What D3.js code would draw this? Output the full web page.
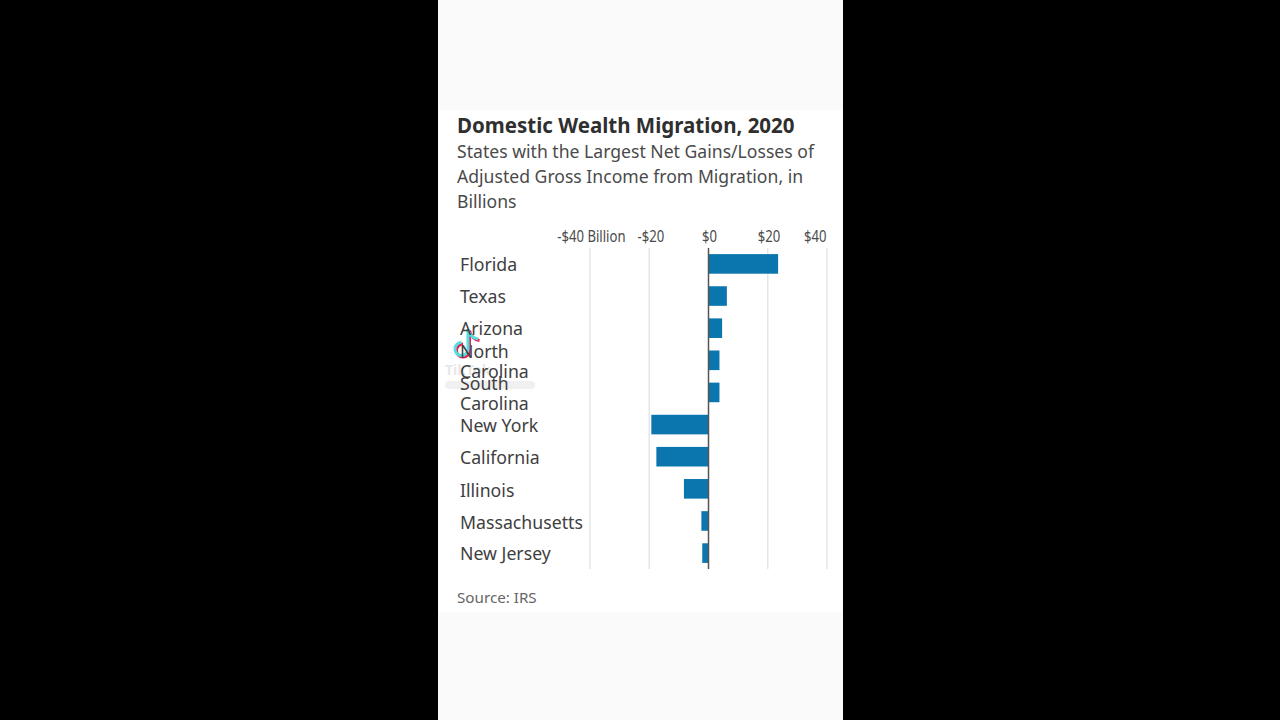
<!DOCTYPE html>
<html><head><meta charset="utf-8">
<script src="https://cdn.jsdelivr.net/npm/d3@7"></script>
<style>
html,body{margin:0;padding:0;background:#000;overflow:hidden}
svg{display:block}
text{font-family:"Noto Sans",sans-serif;font-variant-ligatures:none}
</style></head><body><div id="c"></div>
<script>
const categories=["Florida","Texas","Arizona","North Carolina","South Carolina","New York","California","Illinois","Massachusetts","New Jersey"];
const values=[23.5,6.2,4.6,3.7,3.7,-19.3,-17.6,-8.3,-2.4,-2.1];
const tickValues=[-40,-20,0,20,40];
const tickLabels=["-$40 Billion","-$20","$0","$20","$40"];
const title="Domestic Wealth Migration, 2020";
const subtitle=["States with the Largest Net Gains/Losses of","Adjusted Gross Income from Migration, in","Billions"];
const source="Source: IRS";

const svg=d3.select("#c").append("svg").attr("width",1280).attr("height",720);
svg.append("rect").attr("x",438).attr("y",0).attr("width",405).attr("height",720).attr("fill","#fafafa");
svg.append("rect").attr("x",439).attr("y",110).attr("width",403).attr("height",502).attr("fill","#fff");

svg.append("text").attr("x",457).attr("y",133).attr("font-size",20.5).attr("font-weight",700).attr("fill","#2f2f2f").text(title);
svg.selectAll("text.sub").data(subtitle).join("text").attr("class","sub")
  .attr("x",457).attr("y",(d,i)=>157.5+i*25).attr("font-size",17.6).attr("fill","#4a4a4a").text(d=>d);

const x=d3.scaleLinear().domain([-40,40]).range([590,827]);
const y=d3.scaleBand().domain(categories).range([248,569]).paddingInner(0.39).paddingOuter(0.19);

const tickOffset={"-40":35,"-20":14.5,"0":8,"20":12,"40":-1};
const axis=d3.axisTop(x).tickValues(tickValues).tickSize(0).tickFormat((d,i)=>tickLabels[i]);
const ga=svg.append("g").attr("transform","translate(0,241.5)").call(axis);
ga.select(".domain").remove();
ga.selectAll("text").attr("font-size",16).attr("fill","#4a4a4a").attr("dy",0)
  .attr("text-anchor","end").attr("x",0).attr("y",0)
  .attr("transform",d=>`translate(${tickOffset[d]},0) scale(0.82,1)`);

svg.append("g").selectAll("line").data(tickValues.filter(d=>d!==0)).join("line")
  .attr("x1",d=>x(d)).attr("x2",d=>x(d)).attr("y1",248).attr("y2",569)
  .attr("stroke","#e6e6e6").attr("stroke-width",1.5);

svg.append("g").selectAll("rect").data(values).join("rect")
  .attr("x",d=>Math.min(x(d),x(0))).attr("width",d=>Math.abs(x(d)-x(0)))
  .attr("y",(d,i)=>y(categories[i])).attr("height",y.bandwidth())
  .attr("fill","#0b76ad");

svg.append("line").attr("x1",x(0)).attr("x2",x(0)).attr("y1",248).attr("y2",569)
  .attr("stroke","#555").attr("stroke-width",1.5);

// video watermark: the handle under it cannot be read in the reference, so it stays a faint smear
const wm=svg.append("g");
wm.append("text").attr("x",445).attr("y",375).attr("font-size",14).attr("font-weight",700).attr("fill","#e8e8e8").text("TikTok");
wm.append("rect").attr("x",445).attr("y",381).attr("width",90).attr("height",8).attr("rx",4).attr("fill","#f0f0f0");

const labelY=[271,303,335,358,390,432,464,497,529,560];
const labels=svg.append("g").selectAll("text").data(categories).join("text")
  .attr("x",460).attr("y",(d,i)=>labelY[i]).attr("font-size",17.7).attr("fill","#404040");
labels.each(function(d,i){
  const parts=d.endsWith("Carolina")?d.split(" "):[d];
  d3.select(this).selectAll("tspan").data(parts).join("tspan")
    .attr("x",460).attr("dy",(p,j)=>j?20:0).text(p=>p);
});

svg.append("text").attr("x",457).attr("y",603).attr("font-size",15.2).attr("fill","#666").text(source);

const note="M468 329V349a6.5 6.5 0 1 1-6.5-6.5M468 329c1 6 5 9 10 10";
wm.append("path").attr("d",note).attr("fill","none").attr("stroke","#ee1d52").attr("stroke-width",3).attr("transform","translate(1.5,1.5)");
wm.append("path").attr("d",note).attr("fill","none").attr("stroke","#55dde0").attr("stroke-width",3);
</script></body></html>
